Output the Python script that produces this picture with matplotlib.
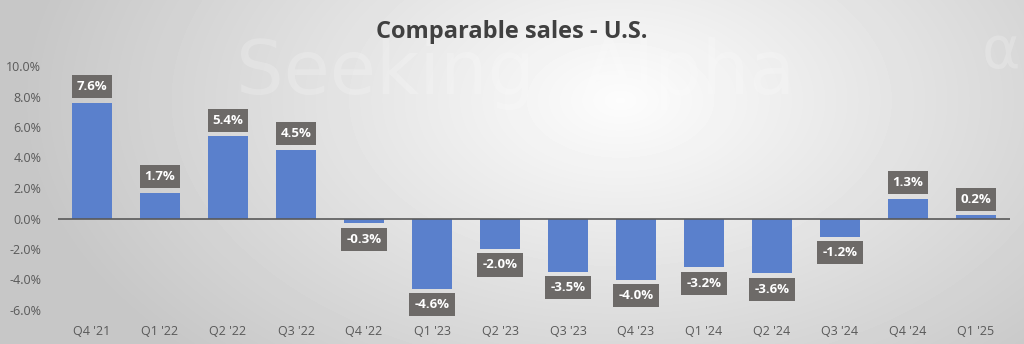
import numpy as np
import matplotlib
matplotlib.use("Agg")
import matplotlib.pyplot as plt

# Datos del gráfico
trimestres = ["Q4 '21", "Q1 '22", "Q2 '22", "Q3 '22", "Q4 '22", "Q1 '23", "Q2 '23",
              "Q3 '23", "Q4 '23", "Q1 '24", "Q2 '24", "Q3 '24", "Q4 '24", "Q1 '25"]
vendas = [7.6, 1.7, 5.4, 4.5, -0.3, -4.6, -2.0, -3.5, -4.0, -3.2, -3.6, -1.2, 1.3, 0.2]
ticks_y = [-6, -4, -2, 0, 2, 4, 6, 8, 10]

cor_barra = "#5a80cc"
cor_caixa = "#6d6a68"
cor_texto = "#595959"

fig = plt.figure(figsize=(10.24, 3.44), dpi=100)

# fundo com gradiente radial
fundo = fig.add_axes([0, 0, 1, 1], zorder=-10)
yy, xx = np.mgrid[0:344, 0:1024]
r = np.sqrt(((xx - 620) / 540.0) ** 2 + ((yy - 100) / 330.0) ** 2)
val = np.clip(0.99 - 0.19 * r, 0.78, 1.0)
fundo.imshow(val, cmap="gray", vmin=0, vmax=1, aspect="auto",
             extent=[0, 1024, 344, 0])
fundo.set_xlim(0, 1024)
fundo.set_ylim(344, 0)
fundo.axis("off")

# marca d'água (bem clara)
fundo.text(535, 94, "Seeking", fontsize=54, color="white", alpha=0.2,
           ha="right", va="baseline")
fundo.text(582, 94, "Alpha", fontsize=54, color="white", alpha=0.2,
           ha="left", va="baseline")
fundo.text(982, 68, "\u03b1", fontsize=42, color="white", alpha=0.2,
           ha="left", va="baseline")

ax = fig.add_axes([58 / 1024, 1 - 310 / 344, 952 / 1024, 244 / 344])
ax.patch.set_alpha(0)

x = np.arange(len(trimestres))
ax.bar(x, vendas, width=0.59, color=cor_barra, zorder=2)
ax.axhline(0, color="#595959", lw=1.2, zorder=3)

for xi, v in zip(x, vendas):
    off = 16 if v >= 0 else -16
    ax.annotate(f"{v:.1f}%", xy=(xi, v), xytext=(0, off), textcoords="offset pixels",
                ha="center", va="center", color="white", fontsize=9.5,
                fontweight="bold", family="Open Sans",
                bbox=dict(boxstyle="square,pad=0.38", fc=cor_caixa, ec="none"),
                zorder=4)

ax.set_xlim(-0.5, len(trimestres) - 0.5)
ax.set_ylim(-6, 10)
ax.set_yticks(ticks_y)
ax.set_yticklabels([f"{t:.1f}%" for t in ticks_y], color=cor_texto, fontsize=9,
                   family="Open Sans")
ax.set_xticks(x)
ax.set_xticklabels(trimestres, color=cor_texto, fontsize=9, family="Open Sans")
ax.tick_params(axis="both", length=0)
ax.tick_params(axis="x", pad=11)
ax.tick_params(axis="y", pad=12)
for s in ax.spines.values():
    s.set_visible(False)

fig.text(0.5, 1 - 32 / 344, "Comparable sales - U.S.", ha="center", va="center",
         fontsize=17, fontweight="bold", color="#404040", family="Open Sans")

fig.savefig("out.png", dpi=100)
